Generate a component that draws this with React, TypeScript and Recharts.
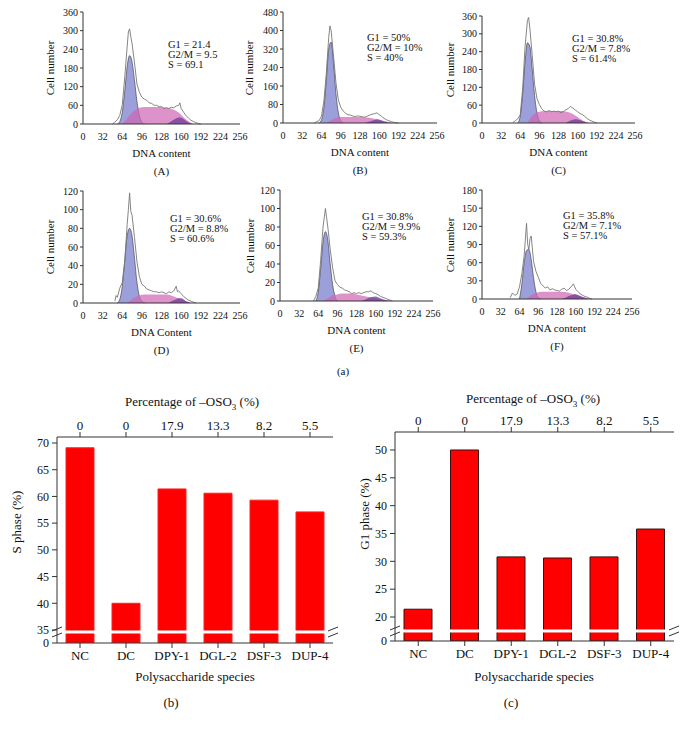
import React from "react";
import {
  ComposedChart,
  Area,
  Line,
  XAxis,
  YAxis,
  BarChart,
  Bar,
  ReferenceLine,
} from "recharts";

const serif = '"Liberation Serif", "DejaVu Serif", serif';

// ---- flow cytometry histograms: [DNA content, cell number] ----
const dnaTicks = [0, 32, 64, 96, 128, 160, 192, 224, 256];

const rawA = [[48,0],[52,6],[56,14],[60,28],[64,62],[68,148],[72,248],[74,296],[76,306],[78,280],[80,258],[84,196],[88,128],[92,102],[96,86],[100,80],[104,76],[108,68],[112,66],[116,60],[120,60],[124,55],[128,56],[132,50],[136,52],[140,50],[144,54],[148,52],[152,58],[156,60],[158,68],[160,50],[164,38],[168,27],[172,19],[176,12],[180,8],[184,4],[188,2],[192,0]];
const g1A = [[56,0],[60,8],[64,38],[68,105],[72,185],[76,220],[80,200],[84,140],[88,72],[92,26],[96,6],[100,0]];
const sA = [[64,0],[68,8],[72,18],[76,28],[80,36],[84,43],[88,48],[92,52],[96,54],[104,55],[112,55],[120,55],[128,54],[136,52],[144,49],[148,46],[152,42],[156,37],[160,30],[164,22],[168,15],[172,9],[176,4],[180,0]];
const g2A = [[136,0],[140,4],[144,9],[148,14],[152,18],[156,21],[160,20],[164,16],[168,10],[172,5],[176,2],[180,0]];

const rawB = [[52,0],[56,6],[60,10],[64,30],[68,95],[72,215],[76,370],[78,420],[80,400],[84,290],[88,175],[92,100],[96,68],[100,52],[104,42],[108,36],[112,34],[116,30],[120,28],[124,31],[128,29],[132,27],[136,25],[140,30],[144,34],[148,38],[152,40],[156,44],[160,36],[164,28],[168,20],[172,14],[176,10],[180,6],[184,3],[188,1],[192,0]];
const g1B = [[60,0],[64,14],[68,68],[72,185],[76,320],[80,350],[84,258],[88,128],[92,45],[96,10],[100,0]];
const sB = [[72,0],[76,6],[80,12],[84,18],[88,22],[92,25],[100,26],[112,26],[124,26],[136,25],[144,23],[148,21],[156,17],[164,11],[172,6],[180,2],[184,0]];
const g2B = [[136,0],[140,3],[144,6],[148,10],[152,13],[156,15],[160,14],[164,11],[168,7],[172,4],[176,1],[180,0]];

const rawC = [[52,2],[56,8],[60,14],[64,28],[68,115],[72,255],[76,345],[78,355],[80,320],[84,228],[88,130],[92,82],[96,62],[100,48],[104,40],[108,38],[112,42],[116,38],[120,40],[124,38],[128,40],[132,35],[136,38],[140,44],[144,48],[148,56],[152,50],[156,44],[160,38],[164,32],[168,28],[172,22],[176,15],[180,10],[184,6],[188,3],[192,0]];
const g1C = [[60,0],[64,24],[68,98],[72,205],[76,270],[80,258],[84,182],[88,92],[92,34],[96,8],[100,0]];
const sC = [[76,0],[80,14],[84,24],[88,31],[92,36],[96,38],[104,40],[116,40],[128,40],[140,39],[144,37],[148,34],[152,30],[156,25],[160,20],[164,14],[168,9],[172,5],[176,2],[180,0]];
const g2C = [[140,0],[144,4],[148,8],[152,11],[156,13],[160,12],[164,10],[168,7],[172,4],[176,1],[180,0]];

const rawD = [[52,2],[54,8],[56,6],[60,16],[64,22],[68,44],[72,84],[74,100],[76,118],[78,98],[80,94],[84,70],[88,44],[92,28],[96,20],[100,18],[104,15],[108,14],[112,13],[116,12],[120,12],[124,11],[128,12],[132,11],[136,10],[140,12],[144,11],[148,13],[152,18],[154,12],[156,13],[160,10],[164,7],[168,5],[172,3],[176,2],[180,1],[184,0]];
const g1D = [[56,0],[60,4],[64,18],[68,45],[72,72],[76,80],[80,72],[84,48],[88,22],[92,7],[96,2],[100,0]];
const sD = [[72,0],[76,2],[80,4],[84,6],[88,7],[92,8],[100,9],[112,9],[124,9],[136,9],[144,8],[148,7],[156,5],[164,3],[172,1],[176,0]];
const g2D = [[140,0],[144,2],[148,3],[152,4],[156,5],[160,5],[164,4],[168,2],[172,1],[176,0]];

const rawE = [[56,0],[60,5],[64,14],[68,44],[72,80],[76,100],[78,90],[80,80],[84,56],[88,36],[92,22],[96,18],[100,15],[104,14],[108,12],[112,11],[116,10],[120,8],[124,9],[128,8],[132,9],[136,8],[140,9],[144,10],[148,10],[152,11],[156,9],[160,8],[164,7],[168,5],[172,4],[176,3],[180,2],[184,1],[188,0]];
const g1E = [[60,0],[64,10],[68,35],[72,64],[76,75],[80,66],[84,40],[88,18],[92,5],[96,0]];
const sE = [[72,0],[80,3],[88,6],[96,7],[104,8],[112,8],[120,8],[128,7],[136,6],[144,5],[152,4],[160,3],[168,2],[176,1],[184,0]];
const g2E = [[136,0],[144,2],[152,4],[160,5],[168,3],[176,1],[184,0]];

const rawF = [[48,2],[52,10],[56,6],[60,8],[64,20],[68,42],[72,72],[76,125],[78,90],[80,82],[82,100],[84,104],[88,62],[92,46],[96,36],[100,26],[104,22],[108,18],[112,20],[116,15],[120,17],[124,15],[128,14],[132,13],[136,16],[140,18],[144,14],[148,16],[152,20],[156,25],[160,16],[164,12],[168,8],[172,6],[176,4],[180,3],[184,1],[188,0]];
const g1F = [[64,0],[68,25],[72,60],[76,80],[80,82],[84,65],[88,35],[92,12],[96,2],[100,0]];
const sF = [[76,0],[84,6],[92,10],[100,12],[112,12],[124,12],[136,12],[144,11],[152,9],[160,7],[168,4],[176,2],[184,0]];
const g2F = [[136,0],[144,3],[152,6],[160,8],[168,5],[176,2],[184,0]];

const ticksA = [0, 60, 120, 180, 240, 300, 360];
const ticksB = [0, 80, 160, 240, 320, 400, 480];
const ticks120 = [0, 20, 40, 60, 80, 100, 120];
const ticksF = [0, 30, 60, 90, 120, 150, 180];

// ---- bar charts ----
const species = ["NC", "DC", "DPY-1", "DGL-2", "DSF-3", "DUP-4"];
const oso3 = ["0", "0", "17.9", "13.3", "8.2", "5.5"];
const sPhase = [69.1, 40, 61.4, 60.6, 59.3, 57.1];
const g1Phase = [21.4, 50, 30.8, 30.6, 30.8, 35.8];

type Pair = number[];

function merge(raw: Pair[], g1: Pair[], s: Pair[], g2: Pair[]) {
  const m = new Map<number, any>();
  const put = (arr: Pair[], key: string) =>
    arr.forEach(([x, y]) => {
      const r = m.get(x) ?? { x };
      r[key] = y;
      m.set(x, r);
    });
  put(raw, "raw");
  put(g1, "g1");
  put(s, "s");
  put(g2, "g2");
  return [...m.values()].sort((a, b) => a.x - b.x);
}

const panels = [
  { id: "A", px: 83, py: 12, pw: 157, ph: 112, ymax: 360, yTicks: ticksA, rows: merge(rawA, g1A, sA, g2A),
    note: ["G1 = 21.4", "G2/M = 9.5", " S = 69.1"], nx: 168, ny: 40, yl: 50, xt: "DNA content", tag: "(A)" },
  { id: "B", px: 283, py: 12, pw: 154, ph: 111, ymax: 480, yTicks: ticksB, rows: merge(rawB, g1B, sB, g2B),
    note: ["G1 = 50%", "G2/M = 10%", " S = 40%"], nx: 367, ny: 33, yl: 249, xt: "DNA content", tag: "(B)" },
  { id: "C", px: 482, py: 16, pw: 153, ph: 107, ymax: 360, yTicks: ticksA, rows: merge(rawC, g1C, sC, g2C),
    note: ["G1 = 30.8%", "G2/M = 7.8%", " S = 61.4%"], nx: 572, ny: 34, yl: 450, xt: "DNA content", tag: "(C)" },
  { id: "D", px: 83, py: 191, pw: 157, ph: 112, ymax: 120, yTicks: ticks120, rows: merge(rawD, g1D, sD, g2D),
    note: ["G1 = 30.6%", "G2/M = 8.8%", " S = 60.6%"], nx: 170, ny: 214, yl: 50, xt: "DNA Content", tag: "(D)" },
  { id: "E", px: 280, py: 190, pw: 153, ph: 111, ymax: 120, yTicks: ticks120, rows: merge(rawE, g1E, sE, g2E),
    note: ["G1 = 30.8%", "G2/M = 9.9%", " S = 59.3%"], nx: 362, ny: 212, yl: 250, xt: "DNA content", tag: "(E)" },
  { id: "F", px: 482, py: 190, pw: 150, ph: 109, ymax: 180, yTicks: ticksF, rows: merge(rawF, g1F, sF, g2F),
    note: ["G1 = 35.8%", "G2/M = 7.1%", " S = 57.1%"], nx: 563, ny: 211, yl: 450, xt: "DNA content", tag: "(F)" },
];

const txt = (left: number, top: number, size: number, s: any, extra: any = {}) => (
  <div
    style={{
      position: "absolute",
      left,
      top,
      fontFamily: serif,
      fontSize: size,
      color: "#111",
      whiteSpace: "nowrap",
      lineHeight: 1,
      ...extra,
    }}
  >
    {s}
  </div>
);

function Histogram({ p }: { p: any }) {
  const W = p.pw + 75;
  const H = p.ph + 35;
  const tick = { fontSize: 10, fill: "#111", fontFamily: serif };
  const ax = { stroke: "#333" };
  return (
    <>
      <div style={{ position: "absolute", left: p.px - 60, top: p.py - 10 }}>
        <ComposedChart width={W} height={H} data={p.rows} margin={{ top: 10, right: 15, left: 30, bottom: 0 }}>
          <XAxis xAxisId="b" dataKey="x" type="number" domain={[0, 256]} ticks={dnaTicks} interval={0}
            tickLine={false} axisLine={ax} height={25} tick={tick} tickMargin={3} />
          <XAxis xAxisId="t" dataKey="x" type="number" orientation="top" domain={[0, 256]}
            tick={false} tickLine={false} height={0} axisLine={ax} />
          <YAxis yAxisId="l" type="number" domain={[0, p.ymax]} ticks={p.yTicks} interval={0}
            width={30} tickSize={3} tickLine={ax} axisLine={ax} tick={tick} tickMargin={2} />
          <YAxis yAxisId="r" type="number" orientation="right" domain={[0, p.ymax]}
            width={0} tick={false} tickLine={false} axisLine={ax} />
          <Area xAxisId="b" yAxisId="l" dataKey="g1" type="monotone" connectNulls fill="#8a8ed4"
            fillOpacity={0.85} stroke="#333" strokeWidth={0.6} isAnimationActive={false} />
          <Area xAxisId="b" yAxisId="l" dataKey="s" type="monotone" connectNulls fill="#d064b4"
            fillOpacity={0.7} stroke="none" isAnimationActive={false} />
          <Area xAxisId="b" yAxisId="l" dataKey="g2" type="monotone" connectNulls fill="#6e3a9a"
            fillOpacity={0.75} stroke="none" isAnimationActive={false} />
          <Line xAxisId="b" yAxisId="l" dataKey="raw" type="linear" connectNulls stroke="#777"
            strokeWidth={0.9} dot={false} isAnimationActive={false} />
        </ComposedChart>
      </div>
      {p.note.map((n: string, i: number) => txt(p.nx, p.ny + i * 10, 10.5, n, { key: p.id + i } as any))}
      <div
        style={{
          position: "absolute", left: p.yl, top: p.py + p.ph / 2, fontFamily: serif, fontSize: 11,
          color: "#111", whiteSpace: "nowrap", transform: "translate(-50%, -50%) rotate(-90deg)",
        }}
      >
        Cell number
      </div>
      {txt(p.px + p.pw / 2, p.py + p.ph + 24, 11, p.xt, { transform: "translateX(-50%)" })}
      {txt(p.px + p.pw / 2, p.py + p.ph + 42, 11, p.tag, { transform: "translateX(-50%)" })}
    </>
  );
}

function BreakMark(props: any) {
  const vb = props.viewBox || {};
  const x1 = vb.x;
  const x2 = vb.x + vb.width;
  const y = vb.y;
  const mark = (x: number) => (
    <g key={x}>
      <line x1={x - 5} y1={y - 1} x2={x + 5} y2={y - 5} stroke="#333" strokeWidth={1} />
      <line x1={x - 5} y1={y + 5} x2={x + 5} y2={y + 1} stroke="#333" strokeWidth={1} />
    </g>
  );
  return (
    <g>
      <rect x={x1 - 2} y={y - 1.5} width={vb.width + 4} height={3} fill="#fff" />
      {mark(x1)}
      {mark(x2)}
    </g>
  );
}

function PhaseBars(props: {
  left: number; top: number; width: number; height: number; margin: any;
  values: number[]; domain: number[]; ticks: number[]; breakAt: number; stroke: string;
}) {
  const data = species.map((name, i) => ({ name, v: props.values[i] }));
  const tick = { fontSize: 13, fill: "#111", fontFamily: serif };
  const ytick = { fontSize: 12, fill: "#111", fontFamily: serif };
  const ax = { stroke: "#333" };
  return (
    <div style={{ position: "absolute", left: props.left, top: props.top }}>
      <BarChart width={props.width} height={props.height} data={data} margin={props.margin}>
        <XAxis xAxisId="b" dataKey="name" tick={tick} tickSize={5} tickLine={ax} axisLine={ax}
          height={25} interval={0} tickMargin={3} />
        <XAxis xAxisId="t" dataKey="name" orientation="top" tick={tick} tickSize={5} tickLine={ax}
          axisLine={ax} height={30} interval={0} tickMargin={2}
          tickFormatter={(_v: any, i: number) => oso3[i]} />
        <YAxis yAxisId="l" type="number" domain={props.domain} ticks={props.ticks} interval={0}
          allowDataOverflow tick={ytick} tickSize={5} tickLine={ax} axisLine={ax} width={40} tickMargin={3}
          tickFormatter={(v: number) => (v < props.ticks[1] ? "0" : String(v))} />
        <YAxis yAxisId="r" type="number" orientation="right" domain={props.domain} allowDataOverflow
          width={0} tick={false} tickLine={false} axisLine={ax} />
        <Bar xAxisId="b" yAxisId="l" dataKey="v" fill="#ff0000" stroke={props.stroke}
          strokeWidth={1} barSize={28} isAnimationActive={false} />
        <ReferenceLine xAxisId="b" yAxisId="l" y={props.breakAt} stroke="none" label={<BreakMark />} />
      </BarChart>
    </div>
  );
}

const sub = (
  <span>
    Percentage of –OSO<sub style={{ fontSize: 9 }}>3</sub> (%)
  </span>
);

export default function App() {
  return (
    <div
      style={{
        position: "absolute", left: 0, top: 0, width: 687, height: 729,
        background: "#fff", overflow: "hidden",
      }}
    >
      {panels.map((p) => (
        <Histogram key={p.id} p={p} />
      ))}
      {txt(343, 366, 11, "(a)", { transform: "translateX(-50%)" })}

      {txt(192, 395, 13, sub, { transform: "translateX(-50%)" })}
      <PhaseBars left={0} top={390} width={350} height={300}
        margin={{ top: 17, right: 17, left: 17, bottom: 22 }}
        values={sPhase} domain={[32.57, 71.12]} ticks={[32.57, 35, 40, 45, 50, 55, 60, 65, 70]}
        breakAt={34.63} stroke="#ff2020" />
      <div style={{ position: "absolute", left: 17, top: 522, fontFamily: serif, fontSize: 13, color: "#111",
        whiteSpace: "nowrap", transform: "translate(-50%, -50%) rotate(-90deg)" }}>S phase (%)</div>
      {txt(195, 670, 13, "Polysaccharide species", { transform: "translateX(-50%)" })}
      {txt(171, 696, 13, "(b)", { transform: "translateX(-50%)" })}

      {txt(533, 392, 13, sub, { transform: "translateX(-50%)" })}
      <PhaseBars left={340} top={390} width={340} height={300}
        margin={{ top: 12, right: 6, left: 15, bottom: 24 }}
        values={g1Phase} domain={[15.69, 53.23]} ticks={[15.69, 20, 25, 30, 35, 40, 45, 50]}
        breakAt={17.49} stroke="#3a1010" />
      <div style={{ position: "absolute", left: 365, top: 514, fontFamily: serif, fontSize: 13, color: "#111",
        whiteSpace: "nowrap", transform: "translate(-50%, -50%) rotate(-90deg)" }}>G1 phase (%)</div>
      {txt(534, 670, 13, "Polysaccharide species", { transform: "translateX(-50%)" })}
      {txt(511, 696, 13, "(c)", { transform: "translateX(-50%)" })}
    </div>
  );
}
